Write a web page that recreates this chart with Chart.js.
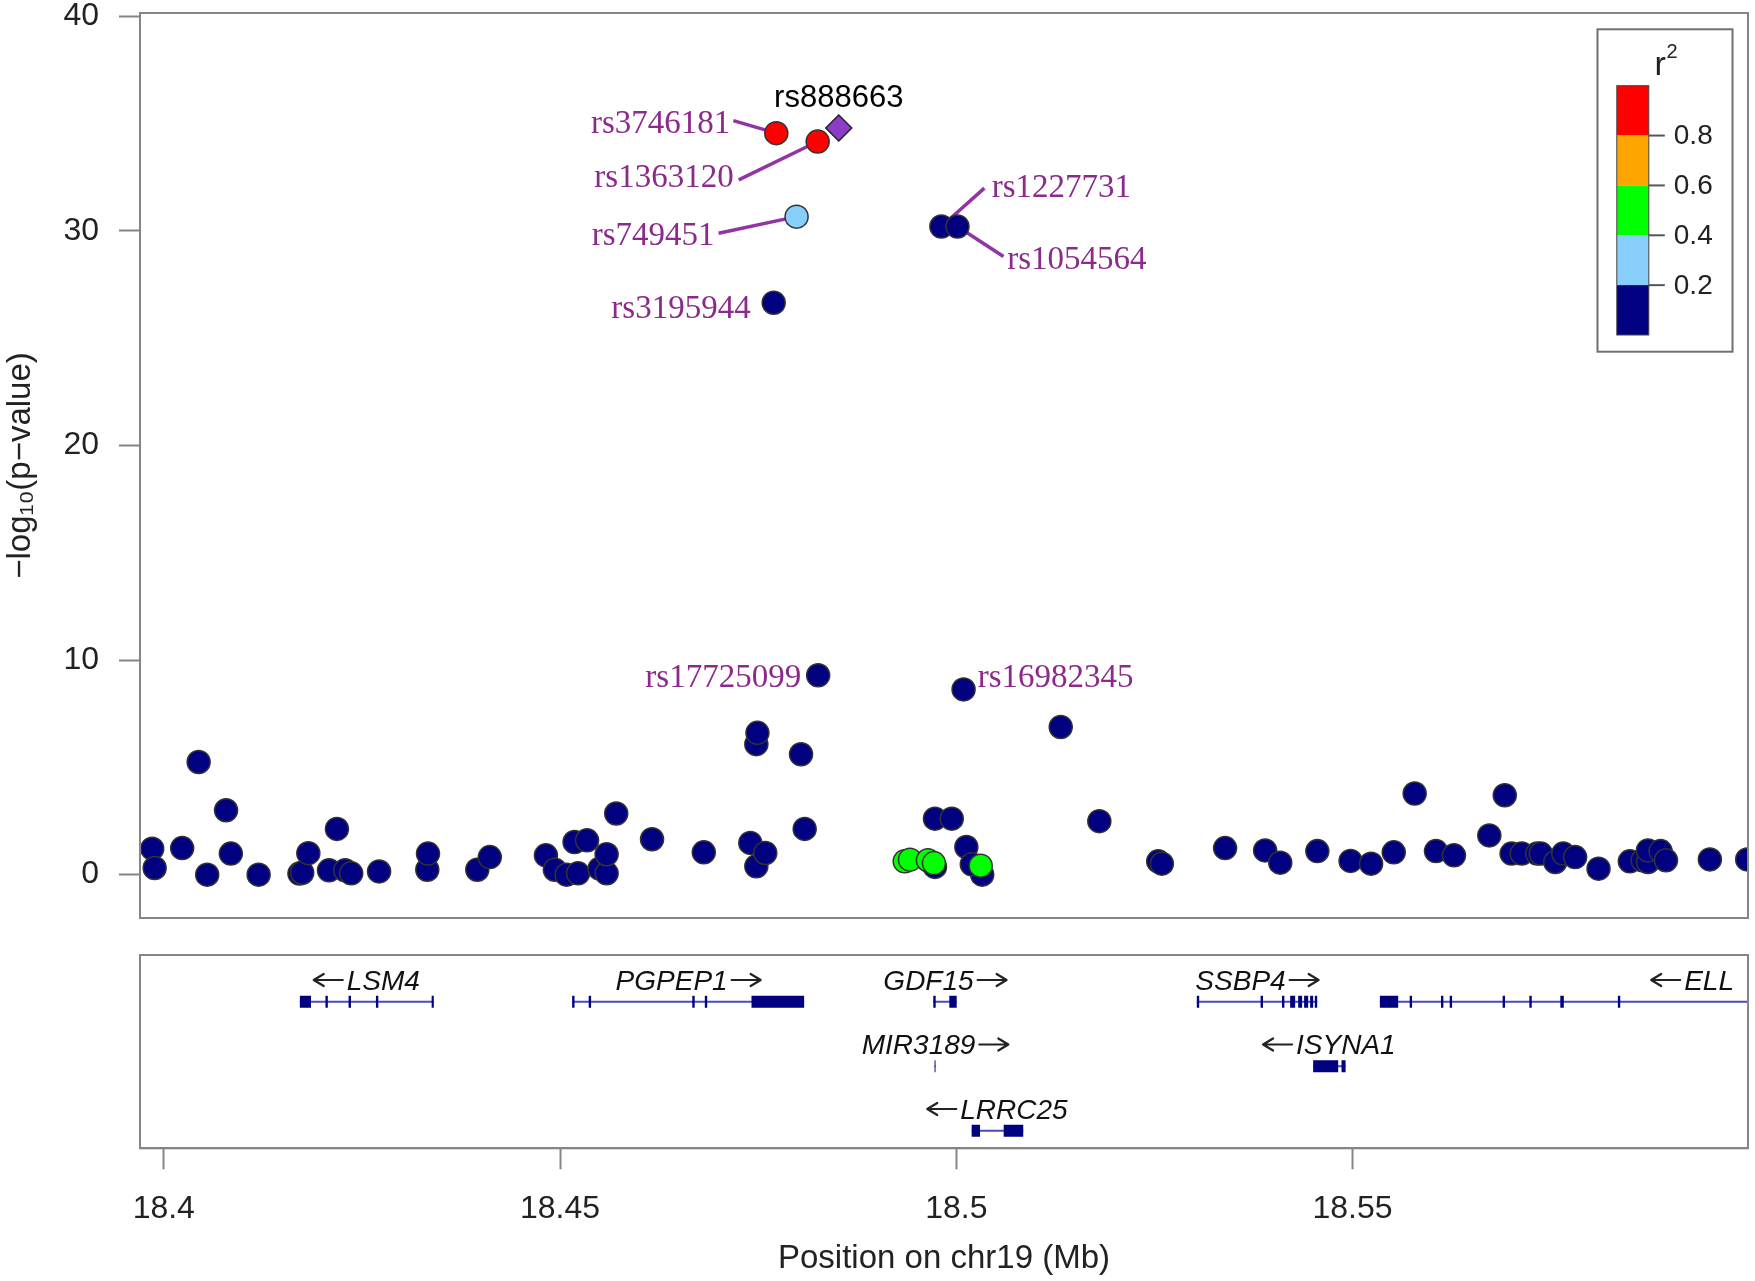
<!DOCTYPE html>
<html><head><meta charset="utf-8">
<script src="https://cdn.jsdelivr.net/npm/chart.js@4.4.1/dist/chart.umd.min.js"></script>
<style>
html,body{margin:0;padding:0;background:#fff;}
#wrap{position:relative;width:1755px;height:1281px;background:#fff;}
#main{position:absolute;left:0;top:0;}
#genes{position:absolute;left:0;top:930px;}
</style></head>
<body><div id="wrap"><canvas id="main" width="1755" height="935"></canvas><canvas id="genes" width="1755" height="351"></canvas></div>
<script>
// ---------------- data ----------------
const xTicks = [18.4, 18.45, 18.5, 18.55];
const xTickLabels = ['18.4', '18.45', '18.5', '18.55'];
const yTicks = [0, 10, 20, 30, 40];
const yTickLabels = ['0', '10', '20', '30', '40'];
const xTitle = 'Position on chr19 (Mb)';
const yTitle = '\u2212log\u2081\u2080(p\u2212value)';

const ldBreaks = [0.2, 0.4, 0.6, 0.8];
const ldBreakLabels = ['0.2', '0.4', '0.6', '0.8'];
const ldColors = ['#000080', '#87CEFA', '#00FF00', '#FFA500', '#FF0000'];
const leadColor = '#8E3BC8';

// SNPs by LD bin: [position (Mb), -log10 p]
const snpR2Low = [
  [18.39854,1.21],[18.39885,0.31],[18.40232,1.24],[18.40440,5.25],[18.40548,0.0],[18.40786,3.0],
  [18.40846,0.98],[18.41197,0.0],[18.41712,0.05],[18.41747,0.09],[18.41824,1.0],[18.42085,0.2],
  [18.42185,2.13],[18.42289,0.2],[18.42365,0.06],[18.42717,0.15],[18.43325,0.23],[18.43334,0.98],
  [18.43956,0.23],[18.44114,0.82],[18.44822,0.9],[18.44935,0.23],[18.45083,0.0],[18.45183,1.52],
  [18.45227,0.06],[18.45341,1.6],[18.45499,0.28],[18.45588,0.06],[18.45588,0.95],[18.45709,2.85],
  [18.46161,1.65],[18.46814,1.04],[18.47401,1.48],[18.47477,0.39],[18.47590,1.01],[18.47477,6.08],
  [18.47491,6.61],[18.48041,5.61],[18.48087,2.13],[18.48257,9.29],[18.47696,26.65],
  [18.49731,0.36],[18.49731,2.61],[18.49943,2.61],[18.50127,1.29],[18.50327,0.0],[18.50196,0.48],
  [18.49812,30.2],[18.50015,30.2],[18.50092,8.63],[18.51318,6.88],[18.51805,2.49],[18.52548,0.62],
  [18.52594,0.51],[18.53392,1.24],[18.53897,1.13],[18.54088,0.56],[18.54556,1.1],[18.54975,0.64],
  [18.55234,0.51],[18.55520,1.04],[18.55784,3.78],[18.56053,1.1],[18.56280,0.9],[18.56726,1.83],
  [18.56921,3.7],[18.57007,0.98],[18.57135,0.98],[18.57330,0.98],[18.57376,0.98],[18.57558,0.59],
  [18.57659,0.98],[18.57809,0.82],[18.58104,0.28],[18.58499,0.62],[18.58660,0.67],[18.58728,0.59],
  [18.58728,1.13],[18.58887,1.1],[18.58955,0.67],[18.59509,0.71],[18.59980,0.71]
];
const snpR2Mid1 = [[18.47985,30.66]];                       // 0.2-0.4
const snpR2Mid2 = [[18.49349,0.62],[18.49416,0.7],[18.49642,0.67],[18.49718,0.54],[18.50308,0.42]]; // 0.4-0.6
const snpR2Mid3 = [];                                       // 0.6-0.8
const snpR2High = [[18.47729,34.55],[18.48251,34.16]];      // 0.8-1
const leadSnp = [[18.48517,34.79]];

// labelled SNPs
const labelSnpNames = ['rs888663','rs3746181','rs1363120','rs749451','rs3195944','rs1227731','rs1054564','rs17725099','rs16982345'];
const labelSnpX = [18.48517,18.47729,18.48251,18.47985,18.47696,18.49812,18.50015,18.48257,18.50092];
const labelSnpY = [34.79,34.55,34.16,30.66,26.65,30.2,30.2,9.29,8.63];

// genes
const geneNames  = ['LSM4','PGPEP1','GDF15','MIR3189','LRRC25','SSBP4','ISYNA1','ELL'];
const geneStart  = [18.41717,18.45153,18.49710,18.49726,18.50194,18.53035,18.54503,18.55345];
const geneEnd    = [18.43407,18.48080,18.50005,18.49738,18.50845,18.54554,18.54912,18.63295];
const geneRow    = [0,0,0,1,2,0,1,0];
const geneStrand = ['-','+','+','+','-','+','-','-'];
const geneExons = [
  [[18.41717,18.41858],[18.42040,18.42070],[18.42332,18.42362],[18.42677,18.42707],[18.43380,18.43407]],
  [[18.45153,18.45183],[18.45362,18.45392],[18.46669,18.46699],[18.46827,18.46857],[18.47416,18.48080]],
  [[18.49710,18.49740],[18.49912,18.50005]],
  [[18.49726,18.49738]],
  [[18.50194,18.50299],[18.50598,18.50845]],
  [[18.53035,18.53065],[18.53840,18.53870],[18.54110,18.54140],[18.54213,18.54276],[18.54314,18.54364],
   [18.54389,18.54440],[18.54465,18.54503],[18.54524,18.54554]],
  [[18.54503,18.54819],[18.54861,18.54912]],
  [[18.55345,18.55576],[18.55721,18.55751],[18.56116,18.56146],[18.56226,18.56256],[18.56894,18.56924],
   [18.57231,18.57261],[18.57622,18.57666],[18.58348,18.58378]]
];

// ---------------- styling / layout ----------------
const SANS = '"Liberation Sans", Arial, Helvetica, sans-serif';
const SERIF = '"Liberation Serif", "Times New Roman", serif';
const X_MIN = 18.3970, X_MAX = 18.5999;
const FRAME = '#858585';
const TXT = '#222';
const LABEL_PURPLE = '#8C2A8C';
const LINE_PURPLE = '#9334A6';

// label placement (pixel offsets from the SNP)
const labelLayout = {
  rs888663:   {dx:0,    dy:-32,  align:'center', sans:true},
  rs3746181:  {dx:-46,  dy:-11.6, align:'right', line:[-43,-12.6]},
  rs1363120:  {dx:-84,  dy:34.3, align:'right', line:[-79,38.3]},
  rs749451:   {dx:-82,  dy:16.3, align:'right', line:[-78,16.6]},
  rs3195944:  {dx:-23,  dy:4,    align:'right'},
  rs1227731:  {dx:50.4, dy:-40.7, align:'left', line:[43,-38.4]},
  rs1054564:  {dx:49.7, dy:30.8, align:'left', line:[46,30]},
  rs17725099: {dx:-17,  dy:0,    align:'right'},
  rs16982345: {dx:14.2, dy:-14.3, align:'left'}
};

const toPts = arr => arr.map(p => ({x:p[0], y:p[1]}));
const noOverflow = s => { s.paddingTop = 0; s.paddingBottom = 0; s.paddingLeft = 0; s.paddingRight = 0; };

const framePlugin = {
  id:'frame',
  afterDraw(chart){
    const {ctx, chartArea:a} = chart;
    ctx.save();
    ctx.strokeStyle = FRAME; ctx.lineWidth = 2;
    ctx.strokeRect(a.left, a.top, a.right - a.left, a.bottom - a.top);
    ctx.restore();
  }
};

const snpLabelPlugin = {
  id:'snpLabels',
  beforeDatasetsDraw(chart){
    const {ctx, scales:{x, y}} = chart;
    ctx.save();
    ctx.strokeStyle = LINE_PURPLE; ctx.lineWidth = 3.5; ctx.lineCap = 'butt';
    labelSnpNames.forEach((n, i) => {
      const L = labelLayout[n]; if (!L || !L.line) return;
      const px = x.getPixelForValue(labelSnpX[i]), py = y.getPixelForValue(labelSnpY[i]);
      ctx.beginPath(); ctx.moveTo(px + L.line[0], py + L.line[1]); ctx.lineTo(px, py); ctx.stroke();
    });
    ctx.restore();
  },
  afterDatasetsDraw(chart){
    const {ctx, scales:{x, y}} = chart;
    ctx.save();
    ctx.textBaseline = 'alphabetic';
    labelSnpNames.forEach((n, i) => {
      const L = labelLayout[n]; if (!L) return;
      const px = x.getPixelForValue(labelSnpX[i]), py = y.getPixelForValue(labelSnpY[i]);
      const size = L.sans ? 31 : 33;
      ctx.font = size + 'px ' + (L.sans ? SANS : SERIF);
      ctx.fillStyle = L.sans ? '#000' : LABEL_PURPLE;
      ctx.textAlign = L.align;
      ctx.fillText(n, px + L.dx, py + L.dy + size * 0.35);
    });
    ctx.restore();
  }
};

const ldLegendPlugin = {
  id:'ldLegend',
  afterDraw(chart){
    const {ctx, chartArea:a} = chart;
    const bx = a.right - 150.5, by = a.top + 16.3, bw = 135, bh = 322.4;
    ctx.save();
    ctx.fillStyle = '#fff'; ctx.fillRect(bx, by, bw, bh);
    ctx.strokeStyle = '#707070'; ctx.lineWidth = 2; ctx.strokeRect(bx, by, bw, bh);
    const barL = bx + 19.3, barW = 32, barTop = by + 56.4, segH = 49.86;
    const n = ldColors.length;
    for (let k = 0; k < n; k++) {
      ctx.fillStyle = ldColors[n - 1 - k];
      ctx.fillRect(barL, barTop + k * segH, barW, segH);
    }
    ctx.strokeStyle = '#444'; ctx.lineWidth = 1; ctx.strokeRect(barL, barTop, barW, segH * n);
    ctx.font = '28px ' + SANS; ctx.fillStyle = TXT; ctx.textAlign = 'left'; ctx.textBaseline = 'middle';
    ctx.strokeStyle = '#555'; ctx.lineWidth = 2;
    for (let k = 0; k < ldBreaks.length; k++) {
      const yy = barTop + (n - 1 - k) * segH;
      ctx.beginPath(); ctx.moveTo(barL + barW, yy); ctx.lineTo(barL + barW + 16, yy); ctx.stroke();
      ctx.fillText(ldBreakLabels[k], barL + barW + 25, yy + 1);
    }
    // title r^2
    ctx.textBaseline = 'alphabetic';
    ctx.font = '34px ' + SANS; ctx.fillStyle = TXT;
    ctx.fillText('r', bx + 57, by + 46);
    ctx.font = '20px ' + SANS;
    ctx.fillText('2', bx + 69, by + 29);
    ctx.restore();
  }
};

const ptBase = {pointRadius:11.5, pointBorderWidth:1.5, pointBorderColor:'#333', clip:0, pointHoverRadius:11.5};

new Chart(document.getElementById('main'), {
  type:'scatter',
  data:{datasets:[
    Object.assign({label:'lead SNP', data:toPts(leadSnp), backgroundColor:leadColor, pointStyle:'rectRot'}, ptBase, {pointRadius:13, pointHoverRadius:13, pointBorderColor:'#222'}),
    Object.assign({label:'r2 0.8-1', data:toPts(snpR2High), backgroundColor:ldColors[4]}, ptBase),
    Object.assign({label:'r2 0.6-0.8', data:toPts(snpR2Mid3), backgroundColor:ldColors[3]}, ptBase),
    Object.assign({label:'r2 0.4-0.6', data:toPts(snpR2Mid2), backgroundColor:ldColors[2]}, ptBase),
    Object.assign({label:'r2 0.2-0.4', data:toPts(snpR2Mid1), backgroundColor:ldColors[1]}, ptBase),
    Object.assign({label:'r2 0-0.2', data:toPts(snpR2Low), backgroundColor:ldColors[0]}, ptBase)
  ]},
  options:{
    responsive:false, animation:false, devicePixelRatio:1,
    layout:{autoPadding:false, padding:{left:0, top:13, right:7, bottom:17}},
    plugins:{legend:{display:false}, tooltip:{enabled:false}},
    scales:{
      x:{type:'linear', min:X_MIN, max:X_MAX, display:false, afterFit:noOverflow},
      y:{type:'linear', min:-2.02, max:40.15,
        afterFit(s){ s.width = 140; noOverflow(s); },
        afterBuildTicks(s){ s.ticks = yTicks.map(v => ({value:v})); },
        ticks:{callback:(v, i) => yTickLabels[i], font:{family:SANS, size:32}, color:TXT, padding:20},
        grid:{drawOnChartArea:false, drawTicks:true, tickLength:21, tickColor:FRAME, tickWidth:2},
        border:{display:true, color:FRAME, width:2},
        title:{display:true, text:yTitle, font:{family:SANS, size:33}, color:TXT, padding:{top:1, bottom:0}}
      }
    }
  },
  plugins:[framePlugin, snpLabelPlugin, ldLegendPlugin]
});

// ---------------- gene track ----------------
const bodyPts = [], exonPts = [];
geneNames.forEach((g, i) => {
  bodyPts.push({x:geneStart[i], y:geneRow[i]}, {x:geneEnd[i], y:geneRow[i]}, {x:geneEnd[i], y:null});
  geneExons[i].forEach(e => { exonPts.push({x:e[0], y:geneRow[i]}, {x:e[1], y:geneRow[i]}, {x:e[1], y:null}); });
});

const ARROW_W = 29, ARROW_GAP = 4;
function drawArrow(ctx, x0, x1, y){
  const dir = Math.sign(x1 - x0);
  ctx.beginPath();
  ctx.moveTo(x0, y); ctx.lineTo(x1, y);
  ctx.moveTo(x1 - dir * 10, y - 6); ctx.lineTo(x1, y); ctx.lineTo(x1 - dir * 10, y + 6);
  ctx.stroke();
}

const geneLabelPlugin = {
  id:'geneLabels',
  afterDatasetsDraw(chart){
    const {ctx, chartArea:a, scales:{x, y}} = chart;
    ctx.save();
    ctx.font = 'italic 28px ' + SANS; ctx.fillStyle = '#111';
    ctx.strokeStyle = '#222'; ctx.lineWidth = 2.2; ctx.lineCap = 'round'; ctx.lineJoin = 'round';
    ctx.textAlign = 'left'; ctx.textBaseline = 'alphabetic';
    geneNames.forEach((g, i) => {
      const tw = ctx.measureText(g).width;
      const w = tw + ARROW_GAP + ARROW_W;
      let cx = x.getPixelForValue((geneStart[i] + geneEnd[i]) / 2);
      cx = Math.min(cx, a.right - 14 - w / 2);
      cx = Math.max(cx, a.left + 14 + w / 2);
      const cy = y.getPixelForValue(geneRow[i]) - 21.7;
      const left = cx - w / 2;
      if (geneStrand[i] === '+') {
        ctx.fillText(g, left, cy + 10);
        drawArrow(ctx, left + tw + ARROW_GAP, left + w, cy);
      } else {
        drawArrow(ctx, left + ARROW_W, left, cy);
        ctx.fillText(g, left + ARROW_W + ARROW_GAP, cy + 10);
      }
    });
    ctx.restore();
  }
};

new Chart(document.getElementById('genes'), {
  type:'line',
  data:{datasets:[
    {label:'exons', data:exonPts, borderColor:'#000080', borderWidth:12, borderCapStyle:'butt', pointRadius:0, spanGaps:false, fill:false, clip:0, tension:0},
    {label:'gene body', data:bodyPts, borderColor:'#4B4BC0', borderWidth:2, pointRadius:0, spanGaps:false, fill:false, clip:0, tension:0}
  ]},
  options:{
    responsive:false, animation:false, devicePixelRatio:1,
    layout:{autoPadding:false, padding:{left:140, top:25, right:7, bottom:0}},
    plugins:{legend:{display:false}, tooltip:{enabled:false}},
    scales:{
      x:{type:'linear', min:X_MIN, max:X_MAX, position:'bottom',
        afterFit(s){ s.height = 132.7; noOverflow(s); },
        afterBuildTicks(s){ s.ticks = xTicks.map(v => ({value:v})); },
        ticks:{callback:(v, i) => xTickLabels[i], font:{family:SANS, size:32}, color:TXT, padding:20.5, maxRotation:0, autoSkip:false},
        grid:{drawOnChartArea:false, drawTicks:true, tickLength:21, tickColor:FRAME, tickWidth:2},
        border:{display:true, color:FRAME, width:2},
        title:{display:true, text:xTitle, font:{family:SANS, size:33}, color:TXT, padding:{top:0, bottom:2}}
      },
      y:{type:'linear', min:-0.724, max:2.273, reverse:true, display:false, afterFit:noOverflow}
    }
  },
  plugins:[framePlugin, geneLabelPlugin]
});
</script>
</body></html>
